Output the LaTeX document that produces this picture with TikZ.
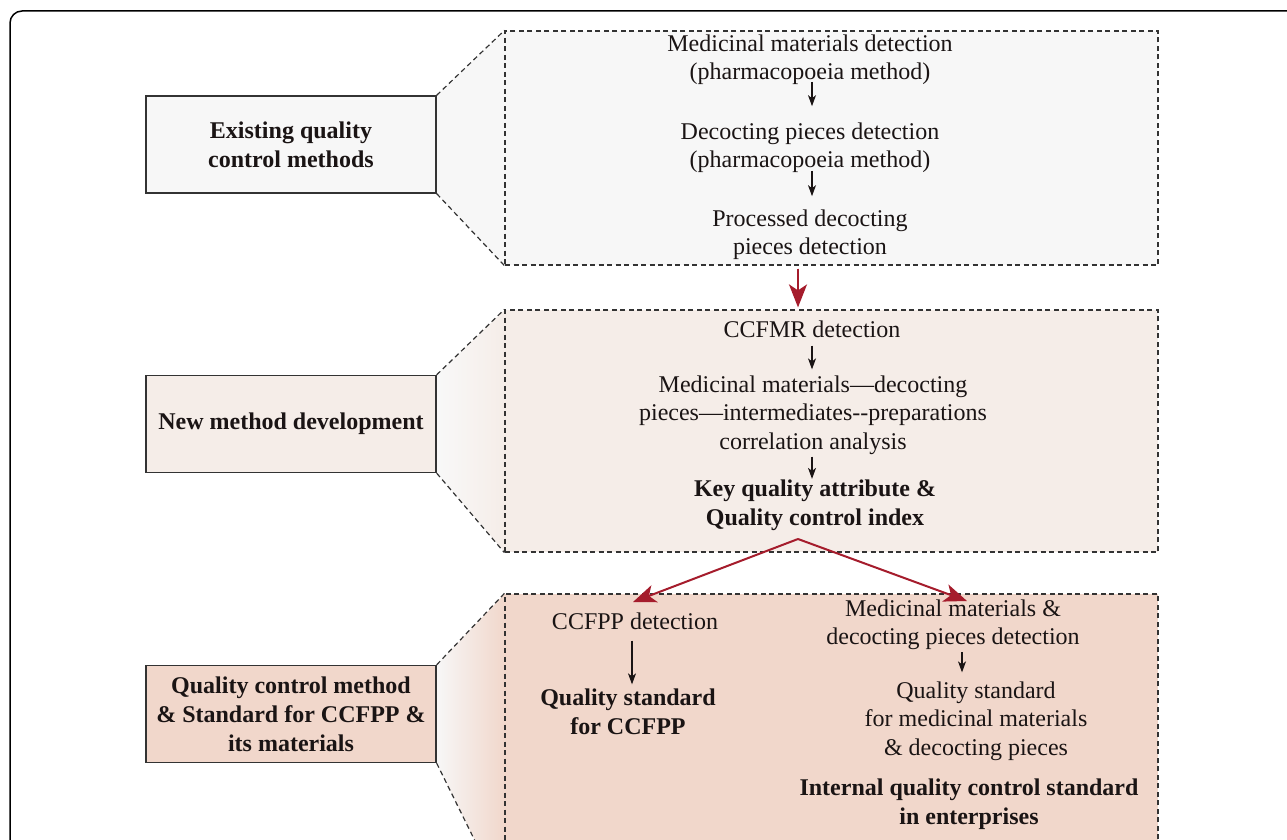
\documentclass[tikz,border=0pt]{standalone}
\usepackage{fontspec}
\setmainfont{Liberation Serif}
\usetikzlibrary{arrows.meta,calc}
\definecolor{gA}{HTML}{F7F7F7}
\definecolor{gB}{HTML}{F5EDE8}
\definecolor{gC}{HTML}{F1D7CB}
\definecolor{redA}{HTML}{A51C2C}
\definecolor{txt}{HTML}{1A1414}
\definecolor{bord}{HTML}{333333}
\begin{document}
\begin{tikzpicture}[x=1pt,y=-1pt,
  lbox/.style={draw=bord, line width=1.3pt, minimum width=290pt, minimum height=97pt,
    align=center, inner sep=2pt, text=txt, font=\bfseries\fontsize{24}{29}\selectfont},
  dbox/.style={draw=bord, line width=1.2pt, dash pattern=on 5pt off 3.5pt, inner sep=0pt},
  trap/.style={draw=bord, line width=1.2pt, dash pattern=on 5pt off 3.5pt},
  txtn/.style={inner sep=0pt, align=center, text=txt, font=\fontsize{24}{28.5}\selectfont},
  btxt/.style={inner sep=0pt, align=center, text=txt, font=\bfseries\fontsize{24}{29}\selectfont},
  blkarr/.style={-{Stealth[length=11pt,width=8pt,inset=3pt]}, line width=1.2pt, draw=txt},
  redarr/.style={-{Stealth[length=23pt,width=18pt,inset=6pt]}, line width=2pt, draw=redA, fill=redA}
]
\useasboundingbox (0,0) rectangle (1287,840);
\clip (0,0) rectangle (1287,840);
\fill[white] (0,0) rectangle (1287,840);
% outer frame
\draw[line width=1.5pt, rounded corners=12pt] (10,11) rectangle (1310,870);

% coordinates of the boxes
\path (291,144.5) node[minimum width=290pt, minimum height=97pt, inner sep=0pt] (P1) {};
\path (291,424) node[minimum width=290pt, minimum height=97pt, inner sep=0pt] (P2) {};
\path (291,714) node[minimum width=290pt, minimum height=97pt, inner sep=0pt] (P3) {};
\path (831.5,148) node[minimum width=653pt, minimum height=234pt, inner sep=0pt] (Q1) {};
\path (831.5,431) node[minimum width=653pt, minimum height=242pt, inner sep=0pt] (Q2) {};
\path (831.5,747) node[minimum width=653pt, minimum height=306pt, inner sep=0pt] (Q3) {};

% trapezoid shading
\shade[left color=gA, right color=gA] (P1.north east) -- (Q1.north west) -- (Q1.south west) -- (P1.south east) -- cycle;
\shade[left color=gA!80!white, right color=gB] (P2.north east) -- (Q2.north west) -- (Q2.south west) -- (P2.south east) -- cycle;
\shade[left color=gA, right color=gC] (P3.north east) -- (Q3.north west) -- (Q3.south west) -- (P3.south east) -- cycle;

% right dashed boxes
\node[dbox, fill=gA, minimum width=653pt, minimum height=234pt] (R1) at (Q1) {};
\node[dbox, fill=gB, minimum width=653pt, minimum height=242pt] (R2) at (Q2) {};
\node[dbox, fill=gC, minimum width=653pt, minimum height=306pt] (R3) at (Q3) {};

% left boxes
\node[lbox, fill=gA] (L1) at (P1) {Existing quality\\control methods};
\node[lbox, fill=gB] (L2) at (P2) {New method development};
\node[lbox, fill=gC] (L3) at (P3) {Quality control method\\\& Standard for CCFPP \&\\its materials};

% trapezoid lines
\draw[trap] (L1.north east) -- (R1.north west);
\draw[trap] (L1.south east) -- (R1.south west);
\draw[trap] (L2.north east) -- (R2.north west);
\draw[trap] (L2.south east) -- (R2.south west);
\draw[trap] (L3.north east) -- (R3.north west);
\draw[trap] (L3.south east) -- (R3.south west);

% box 1 texts
\node[txtn] (t1a) at (810,59.5) {Medicinal materials detection\\(pharmacopoeia method)};
\node[txtn] (t1b) at (810,147.5) {Decocting pieces detection\\(pharmacopoeia method)};
\node[txtn] (t1c) at (810,234.5) {Processed decocting\\pieces detection};
\draw[blkarr, shorten <=-3pt, shorten >=16pt] ([xshift=2pt]t1a.south) -- ([xshift=2pt]t1a.south |- t1b.north);
\draw[blkarr, shorten <=-2pt, shorten >=13pt] ([xshift=2pt]t1b.south) -- ([xshift=2pt]t1b.south |- t1c.north);

% box 2 texts
\node[txtn] (t2a) at (812,329) {CCFMR detection};
\node[txtn] (t2b) at (813,415) {Medicinal materials---decocting\\pieces---intermediates-{}-preparations\\correlation analysis};
\node[btxt] (t2c) at (815,505.5) {Key quality attribute \&\\Quality control index};
\draw[blkarr, shorten <=8pt, shorten >=6pt] (t2a.south) -- (t2a.south |- t2b.north);
\draw[blkarr, shorten <=2pt, shorten >=1pt] (t2a.south |- t2b.south) -- (t2a.south |- t2c.north);

% box 3 texts
\node[txtn] (t3a) at (635,621) {CCFPP detection};
\node[btxt] (t3b) at (628,711.5) {Quality standard\\for CCFPP};
\node[txtn] (t3c) at (953,625) {Medicinal materials \&\\decocting pieces detection};
\node[txtn] (t3d) at (976,721) {Quality standard\\for medicinal materials\\\& decocting pieces};
\node[btxt] (t3e) at (969,804.5) {Internal quality control standard\\in enterprises};
\draw[blkarr, shorten <=11pt, shorten >=4pt] ([xshift=-3pt]t3a.south) -- ([xshift=-3pt]t3a.south |- t3b.north);
\draw[blkarr, shorten <=2pt, shorten >=9pt] ([xshift=9pt]t3c.south) -- ([xshift=9pt]t3c.south |- t3d.north);

% red arrows
\draw[redarr, shorten <=3pt, shorten >=2pt] ([xshift=-33.5pt]R1.south) -- ([xshift=-33.5pt]R2.north);
\coordinate (vtop) at (798,539);
\coordinate (tipL) at (633,602);
\coordinate (tipR) at (967,601);
\draw[redarr] (vtop) -- (tipL);
\draw[redarr] (vtop) -- (tipR);
\end{tikzpicture}
\end{document}
